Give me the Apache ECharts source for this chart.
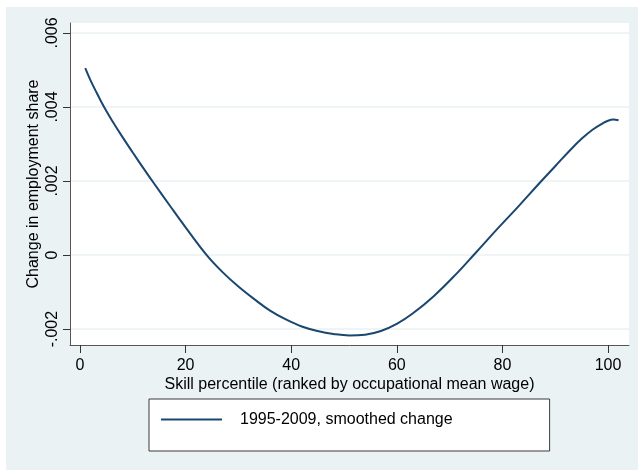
<!DOCTYPE html>
<html>
<head>
<meta charset="utf-8">
<script src="https://cdn.jsdelivr.net/npm/echarts@6/dist/echarts.min.js"></script>
<style>
html,body{margin:0;padding:0;background:#fff;}
#chart{width:638px;height:470px;}
</style>
</head>
<body>
<div id="chart"></div>
<script>
// Data
const skillPercentile = [1,2,3,4,5,6,8,10,12,14,17,20,24,27,30,33,36,39,42,45,48,51,54,57,60,63,67,71,75,79,83,87,90,93,95,97,99,100,101,102];
const smoothedChange = [0.00505,0.00472,0.00443,0.00415,0.00389,0.00365,0.00320,0.00277,0.00235,0.00194,0.00134,0.00075,0.00000,-0.00046,-0.00085,-0.00119,-0.00150,-0.00174,-0.00193,-0.00205,-0.00213,-0.00217,-0.00215,-0.00205,-0.00186,-0.00158,-0.00111,-0.00055,0.00007,0.00070,0.00131,0.00194,0.00240,0.00286,0.00314,0.00338,0.00356,0.00363,0.00366,0.00364];
const xTicks = [0,20,40,60,80,100];
const yTicks = [-0.002,0,0.002,0.004,0.006];
const seriesName = '1995-2009, smoothed change';
const xTitle = 'Skill percentile (ranked by occupational mean wage)';
const yTitle = 'Change in employment share';

const FONT = '"Liberation Sans", Arial, sans-serif';
const FS = 16;
const chart = echarts.init(document.getElementById('chart'), null, {renderer:'canvas'});
function fmtY(v){
  if (Math.abs(v) < 1e-12) return '0';
  return v.toFixed(3).replace('0.', '.');
}
const option = {
  backgroundColor: '#ffffff',
  animation: false,
  graphic: [{
    type: 'rect', z: -10, silent: true,
    shape: {x: 6, y: 7, width: 632, height: 463},
    style: {fill: '#EAF2F3'}
  }],
  grid: {
    left: 70, right: 9, top: 23, bottom: 125,
    show: true, backgroundColor: '#ffffff', borderWidth: 0
  },
  legend: {
    show: true,
    left: 149, top: 399,
    data: [{name: seriesName, icon: 'rect'}],
    backgroundColor: '#ffffff',
    borderColor: '#3a3a3a', borderWidth: 1, borderRadius: 0,
    padding: [11, 97, 22, 12],
    itemWidth: 61, itemHeight: 2,
    itemStyle: {color: '#1A476F'},
    textStyle: {fontFamily: FONT, fontSize: FS, color: '#000', padding: [0,0,0,13], lineHeight: 19}
  },
  xAxis: {
    type: 'value', min: -1.89, max: 103.98,
    name: xTitle, nameLocation: 'middle', nameGap: 32, nameMoveOverlap: false,
    nameTextStyle: {fontFamily: FONT, fontSize: FS, color: '#000'},
    axisLine: {show: true, onZero: false, lineStyle: {color: '#555', width: 1}},
    axisTick: {show: true, length: 8, customValues: xTicks, lineStyle: {color: '#333', width: 1}},
    axisLabel: {customValues: xTicks, margin: 13, fontFamily: FONT, fontSize: FS, color: '#000'},
    splitLine: {show: false}
  },
  yAxis: {
    type: 'value', min: -0.00243, max: 0.00627,
    name: yTitle, nameLocation: 'middle', nameGap: 28, nameRotate: 90, nameMoveOverlap: false,
    nameTextStyle: {fontFamily: FONT, fontSize: FS, color: '#000'},
    axisLine: {show: true, onZero: false, lineStyle: {color: '#555', width: 1}},
    axisTick: {show: true, length: 7, customValues: yTicks, lineStyle: {color: '#333', width: 1}},
    axisLabel: {customValues: yTicks, rotate: 90, margin: 9, fontFamily: FONT, fontSize: FS, color: '#000', formatter: fmtY},
    splitLine: {show: true, lineStyle: {color: '#EAF2F3', width: 1.5}}
  },
  series: [{
    name: seriesName,
    type: 'line',
    data: skillPercentile.map((x, i) => [x, smoothedChange[i]]),
    showSymbol: false, symbol: 'none',
    smooth: 0.4,
    lineStyle: {color: '#1A476F', width: 2},
    itemStyle: {color: '#1A476F'}
  }]
};
chart.setOption(option);
</script>
</body>
</html>
